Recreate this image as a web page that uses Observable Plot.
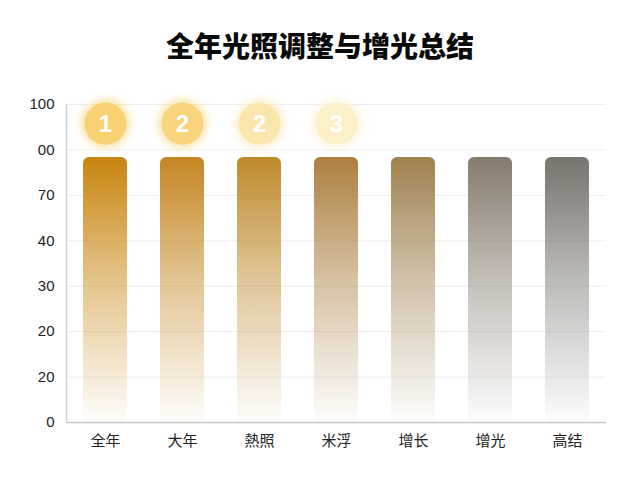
<!DOCTYPE html>
<html>
<head>
<meta charset="utf-8">
<script src="https://cdn.jsdelivr.net/npm/d3@7"></script>
<script src="https://cdn.jsdelivr.net/npm/@observablehq/plot@0.6"></script>
<style>
  body { margin: 0; background: #fff; font-family: "Noto Sans CJK SC", "Noto Sans", sans-serif; }
  #title { height: 80px; box-sizing: border-box; padding-top: 27px; line-height: 36px; text-align: center;
           font-size: 28px; font-weight: 900; color: #0a0a0a; }
  circle[aria-label="glow"], g[aria-label="glow"] circle { filter: blur(4px); }
</style>
</head>
<body>
<div id="title">全年光照调整与增光总结</div>
<div id="chart"></div>
<script>
const categories = ["全年", "大年", "熱照", "米浮", "增长", "增光", "高结"];
const values = [83.3, 83.3, 83.3, 83.3, 83.3, 83.3, 83.3];
const barColors = ["#c8850f", "#c58722", "#bf8a2c", "#ad8040", "#a0814f", "#867b6d", "#77736d"];
const badgeCategories = ["全年", "大年", "熱照", "米浮"];
const badgeLabels = ["1", "2", "2", "3"];
const badgeValues = [94, 94, 94, 94];
const badgeColors = ["#f8d272", "#f8d47c", "#fbe6ae", "#fdefc8"];
const tickLabels = ["0", "20", "20", "30", "40", "70", "00", "100"];
const tickValues = tickLabels.map((_, i) => i * 100 / (tickLabels.length - 1));

const bars = categories.map((c, i) => ({cat: c, value: values[i], id: `g${i}`, color: barColors[i]}));
const badges = badgeCategories.map((c, i) => ({cat: c, value: badgeValues[i], label: badgeLabels[i], color: badgeColors[i]}));

const defsMark = () => {
  const defs = d3.create("svg:defs");
  bars.forEach(b => {
    const g = defs.append("linearGradient").attr("id", b.id)
      .attr("x1", 0).attr("y1", 0).attr("x2", 0).attr("y2", 1);
    g.append("stop").attr("offset", "0%").attr("stop-color", b.color).attr("stop-opacity", 1);
    g.append("stop").attr("offset", "45%").attr("stop-color", b.color).attr("stop-opacity", 0.5);
    g.append("stop").attr("offset", "100%").attr("stop-color", b.color).attr("stop-opacity", 0.02);
  });
  return defs.node();
};

const chart = Plot.plot({
  width: 640,
  height: 400,
  marginTop: 24,
  marginBottom: 58,
  marginLeft: 66,
  marginRight: 34,
  style: {fontFamily: '"Noto Sans CJK SC", "Noto Sans", sans-serif', fontSize: "14px", color: "#222", background: "transparent"},
  x: {domain: categories, paddingInner: 0.431, paddingOuter: 0.207, label: null},
  y: {domain: [0, 100], label: null},
  marks: [
    defsMark,
    Plot.ruleY(tickValues.slice(1), {stroke: "#eeeeee", strokeWidth: 1}),
    Plot.barY(bars, {x: "cat", y: "value", fill: d => `url(#${d.id})`, rx: 6}),
    Plot.dot(badges, {x: "cat", y: "value", r: 24, fill: "color", fillOpacity: 0.7, ariaLabel: () => "glow"}),
    Plot.dot(badges, {x: "cat", y: "value", r: 21, fill: "color"}),
    Plot.text(badges, {x: "cat", y: "value", text: "label", fill: "white", fontSize: 24, fontWeight: 700, dy: 1, fontFamily: '"Liberation Sans", sans-serif'}),
    Plot.ruleY([0], {stroke: "#c8c8cc", strokeWidth: 1.5}),
    Plot.frame({anchor: "left", stroke: "#cfd2da", strokeWidth: 1.5}),
    Plot.axisY({ticks: tickValues, tickFormat: (d, i) => tickLabels[i], tickSize: 0, tickPadding: 12, fontSize: 15, fontFamily: '"Liberation Sans", sans-serif', label: null}),
    Plot.axisX({tickSize: 0, tickPadding: 13, fontSize: 15, label: null})
  ]
});
document.getElementById("chart").append(chart);
</script>
</body>
</html>
